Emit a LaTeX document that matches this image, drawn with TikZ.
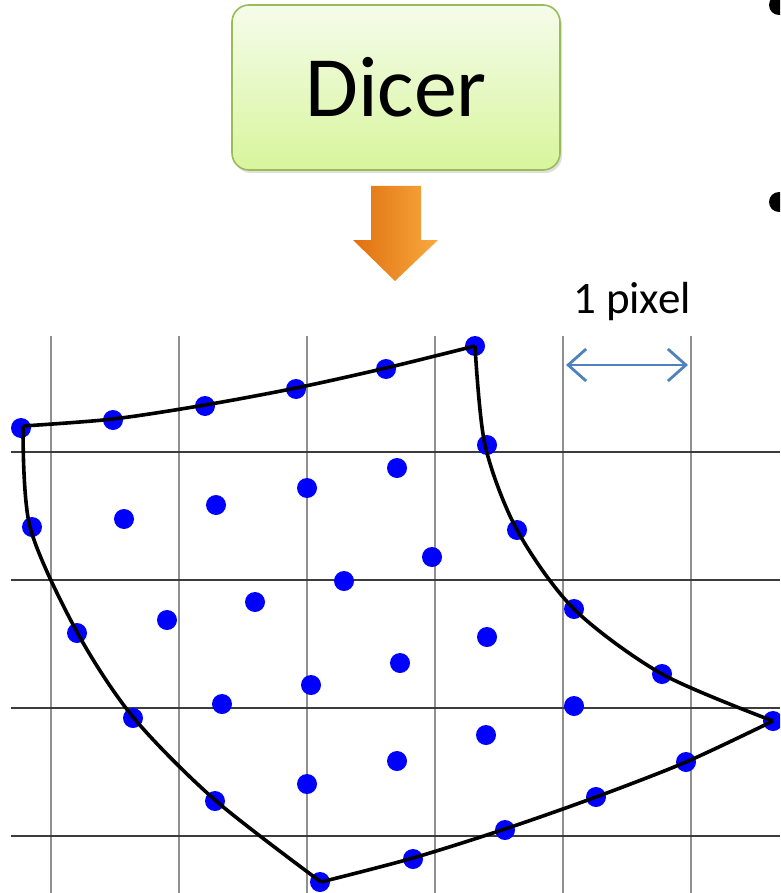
\documentclass[tikz,border=0pt]{standalone}
\usepackage{fontspec}
\setmainfont{Carlito}
\usetikzlibrary{arrows.meta,shadows}
\definecolor{boxtop}{HTML}{F5FCEB}
\definecolor{boxbot}{HTML}{D8F59C}
\definecolor{boxedge}{HTML}{9BBB59}
\definecolor{vgrid}{HTML}{8F8F8F}
\definecolor{hgrid}{HTML}{3C3C3C}
\definecolor{pixblue}{HTML}{4F81BD}
\definecolor{dotblue}{HTML}{0000FF}
\definecolor{orL}{HTML}{E0700E}
\definecolor{orM}{HTML}{F7922A}
\definecolor{orR}{HTML}{F8AA40}
\tikzset{
  vline/.style={draw=vgrid,line width=1.6pt},
  hline/.style={draw=hgrid,line width=1.2pt},
  patch/.style={draw=black,line width=3.6pt,line join=round},
  sample/.style={fill=dotblue},
  dicerbox/.style={draw=boxedge,line width=1.6pt,rounded corners=17pt,
    top color=boxtop,bottom color=boxbot,minimum width=328pt,minimum height=165pt,
    drop shadow={shadow xshift=2pt,shadow yshift=-3pt,opacity=0.25}},
  pixarrow/.style={draw=pixblue,line width=2.8pt,{Straight Barb[length=18pt,width=32pt,line width=2.8pt]}-{Straight Barb[length=18pt,width=32pt,line width=2.8pt]}},
}
\begin{document}
\begin{tikzpicture}[x=1pt,y=-1pt]
\useasboundingbox (0,0) rectangle (780,893);
\clip (0,0) rectangle (780,893);
% bullets
\fill (779,5) circle (10);
\fill (779,202) circle (10);
% Dicer box
\node[dicerbox] (dicer) at (396,87.5) {\fontsize{86}{100}\selectfont Dicer};
% orange arrow
\path[left color=orL,middle color=orM,right color=orR]
  (371,186) -- (421,186) -- (421,240) -- (438,240) -- (395,281) -- (353,240) -- (371,240) -- cycle;
% grid
\foreach \x in {51,179,307,435,563,691} \draw[vline] (\x,336) -- (\x,893);
\foreach \y in {452,580,708,836} \draw[hline] (11,\y) -- (780,\y);
% 1 pixel label
\node (pixlabel) at (632,302) {\fontsize{45}{54}\selectfont 1 pixel};
\coordinate (pa) at (566,365);
\coordinate (pb) at (688,365);
\draw[pixarrow] (pa) -- (pb);
% dots
\foreach \p in {(21,428),(475,346),(773,721),(320,882),
  (113,420),(205,406),(296,389),(386,369),
  (487,445),(517,530),(574,609),(662,674),
  (686,762),(596,797),(505,830),(413,859),
  (215,801),(133,718),(77,633),(32,527),
  (124,519),(216,505),(307,488),(397,468),
  (167,620),(255,602),(344,581),(432,557),
  (222,704),(311,685),(400,663),(487,637),
  (307,784),(397,761),(486,735),(574,706)}
  \fill[sample] \p circle (10);
% patch boundary
\draw[patch] plot[smooth] coordinates {(23,426) (113,419) (205,405) (296,388) (386,368) (475,346)};
\draw[patch] plot[smooth] coordinates {(475,346) (485,445) (517,530) (574,609) (662,674) (773,721)};
\draw[patch] plot[smooth] coordinates {(773,721) (686,762) (596,797) (505,829) (413,858) (321,882)};
\draw[patch] plot[smooth] coordinates {(321,882) (215,800) (133,717) (77,632) (30,527) (23,426)};
\end{tikzpicture}
\end{document}
